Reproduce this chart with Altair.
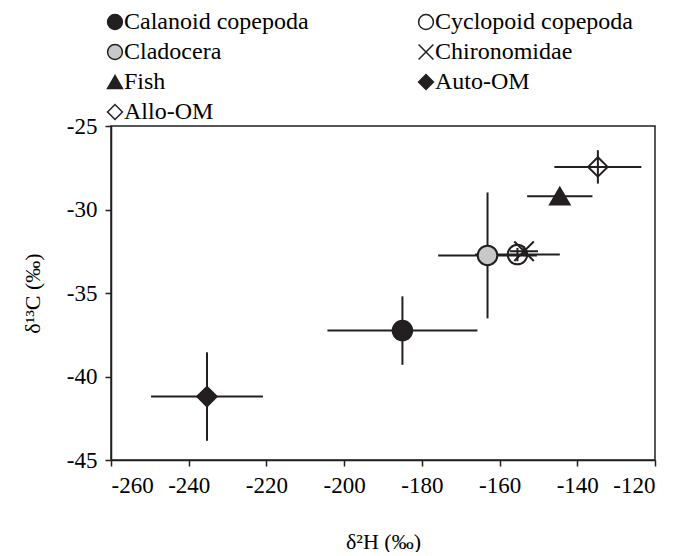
import altair as alt
import pandas as pd

groups = ["Calanoid copepoda", "Cladocera", "Fish", "Allo-OM",
          "Cyclopoid copepoda", "Chironomidae", "Auto-OM"]
d2H = [-185.0, -163.1, -144.5, -134.7, -155.4, -153.7, -235.3]
d13C = [-37.25, -32.75, -29.2, -27.45, -32.7, -32.5, -41.2]
d2H_sd = [19.3, 12.7, 8.4, 11.2, 10.9, 3.6, 14.4]
d13C_sd = [2.05, 3.77, 0.4, 1.0, 0.4, 0.3, 2.65]

shapes = ["circle", "circle", "triangle-up", "diamond", "circle", "M-1,-1L1,1M-1,1L1,-1", "diamond"]
fills = ["#231f20", "#c8c8c8", "#231f20", "transparent", "transparent", "transparent", "#231f20"]

x_ticks = [-260, -240, -220, -200, -180, -160, -140, -120]
y_ticks = [-45, -40, -35, -30, -25]

df = pd.DataFrame({
    "group": groups,
    "h": d2H,
    "c": d13C,
    "h_lo": [v - e for v, e in zip(d2H, d2H_sd)],
    "h_hi": [v + e for v, e in zip(d2H, d2H_sd)],
    "c_lo": [v - e for v, e in zip(d13C, d13C_sd)],
    "c_hi": [v + e for v, e in zip(d13C, d13C_sd)],
})

FONT = "Liberation Serif"
INK = "#231f20"

xscale = alt.Scale(domain=[-260, -120], nice=False, zero=False)
yscale = alt.Scale(domain=[-45, -25], nice=False, zero=False)

xaxis = alt.Axis(values=x_ticks, title="δ²H (‰)", titlePadding=34,
                 labelExpr="'' + datum.value")
yaxis = alt.Axis(values=y_ticks, title="δ¹³C (‰)", titlePadding=22,
                 labelExpr="'' + datum.value")

base = alt.Chart(df)

hbars = base.mark_rule(color=INK, strokeWidth=2).encode(
    x=alt.X("h_lo:Q", scale=xscale, axis=xaxis),
    x2="h_hi:Q",
    y=alt.Y("c:Q", scale=yscale, axis=yaxis),
)
vbars = base.mark_rule(color=INK, strokeWidth=2).encode(
    x=alt.X("h:Q", scale=xscale),
    y=alt.Y("c_lo:Q", scale=yscale),
    y2="c_hi:Q",
)

legend = alt.Legend(
    title=None, orient="none", legendX=-8, legendY=-116, columns=2,
    columnPadding=105, rowPadding=6, labelFont=FONT, labelFontSize=24,
    labelColor="black", symbolSize=220, symbolStrokeWidth=1.5,
    labelOffset={"expr": "-3"},
    labelLimit=400, symbolStrokeColor=INK,
)

points = base.mark_point(size=380, strokeWidth=2, opacity=1).encode(
    x=alt.X("h:Q", scale=xscale),
    y=alt.Y("c:Q", scale=yscale),
    shape=alt.Shape("group:N", scale=alt.Scale(domain=groups, range=shapes), legend=legend),
    fill=alt.Fill("group:N", scale=alt.Scale(domain=groups, range=fills), legend=legend),
    stroke=alt.Stroke("group:N", scale=alt.Scale(domain=groups, range=[INK] * 7), legend=legend),
)

chart = alt.layer(hbars, vbars, points).properties(
    width=544, height=334,
    autosize=alt.AutoSizeParams(type="none"),
    padding={"left": 103, "top": 118, "right": 12, "bottom": 92},
).configure(
    font=FONT,
).configure_view(
    stroke=INK, strokeWidth=1.5,
).configure_axis(
    grid=False, domainColor=INK, domainWidth=1.5, tickColor=INK, tickWidth=1.5,
    tickSize=6, labelFont=FONT, labelFontSize=23, labelColor="black",
    titleFont=FONT, titleFontSize=22, titleColor="black", titleFontWeight="normal",
    labelPadding=8,
).configure_legend(
    labelFont=FONT, labelFontSize=24, labelColor="black",
)

chart.save("out.html", embed_options={"renderer": "svg", "actions": False})
